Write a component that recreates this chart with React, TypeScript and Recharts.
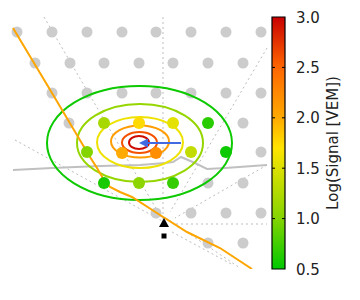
import { ScatterChart, Scatter, XAxis, YAxis, ReferenceArea, ReferenceLine } from "recharts";

// projected coordinates of the footprint (screen units)
const grayRowY = [32, 63, 93, 123, 152, 183, 213, 243];
const grayRowX = [
  [17, 52, 87, 122, 156, 191, 226, 261],
  [35, 70, 104, 139, 173, 208, 243],
  [52, 87, 122, 156, 191, 226, 261],
  [69, 243],
  [261],
  [208, 243],
  [156, 191, 226, 261],
  [208, 243],
];

const stationX = [104, 139, 173, 208, 87, 122, 156, 191, 226, 104, 139, 173];
const stationY = [123, 123, 123, 123, 152, 153, 153, 152, 152, 183, 183, 183];
const stationLog = [1.2, 1.75, 1.55, 0.65, 1.0, 2.0, 2.2, 1.35, 0.55, 0.6, 1.05, 0.7];

const contourX = [139, 139.5, 140, 140, 140, 139.5];
const contourY = [142.5, 142.5, 141.5, 142.5, 143, 143];
const contourRx = [10, 17.5, 29, 43, 63, 92.5];
const contourRy = [6.5, 10.5, 16, 25.5, 39, 57];
const contourLevel = [2.95, 2.6, 2.1, 1.6, 1.1, 0.55];

const trackX = [13, 52, 90, 97, 104, 110, 120, 132, 160, 187, 220, 252];
const trackY = [28, 93, 157, 168, 180, 187, 192, 197, 215, 232, 248, 269];

const groundX = [13, 52, 100, 140, 165, 173, 181, 195, 207, 225, 267];
const groundY = [170, 168, 166, 165, 163, 162, 157, 163, 169, 168, 165];

const gridSegments = [
  [44, 17, 164, 222],
  [15, 140, 164, 222],
  [163, 17, 163, 222],
  [267, 48, 170, 212],
  [267, 165, 175, 218],
  [176, 224, 267, 224],
  [166, 218, 240, 268],
  [172, 232, 233, 265],
];

const arrowFrom = { x: 181, y: 143 };
const arrowTip = { x: 139, y: 143 };
const corePoint = { x: 164, y: 223 };
const mcCorePoint = { x: 164, y: 236 };

const cbTicks = [0.5, 1.0, 1.5, 2.0, 2.5, 3.0];
const cbMin = 0.5;
const cbMax = 3.0;
const cbLeft = 272;
const cbRight = 285;

const cmap: [number, string][] = [
  [0.5, "#00c800"],
  [1.0, "#84d400"],
  [1.5, "#dce000"],
  [1.7, "#ffe400"],
  [2.0, "#ffaa00"],
  [2.5, "#ff6600"],
  [3.0, "#c80000"],
];

const hex = (c: string) => [1, 3, 5].map((i) => parseInt(c.slice(i, i + 2), 16));

function colorFor(v: number) {
  if (v <= cmap[0][0]) return cmap[0][1];
  for (let i = 1; i < cmap.length; i++) {
    const [v1, c1] = cmap[i];
    const [v0, c0] = cmap[i - 1];
    if (v <= v1) {
      const t = (v - v0) / (v1 - v0);
      const a = hex(c0);
      const b = hex(c1);
      const m = a.map((x, k) => Math.round(x + (b[k] - x) * t));
      return `rgb(${m[0]},${m[1]},${m[2]})`;
    }
  }
  return cmap[cmap.length - 1][1];
}

const grayStations = grayRowY.flatMap((y, i) => grayRowX[i].map((x) => ({ x, y })));
const stations = stationX.map((x, i) => ({ x, y: stationY[i], v: stationLog[i] }));
const contours = contourX.map((x, i) => ({
  x,
  y: contourY[i],
  rx: contourRx[i],
  ry: contourRy[i],
  v: contourLevel[i],
}));
const track = trackX.map((x, i) => ({ x, y: trackY[i] }));
const ground = groundX.map((x, i) => ({ x, y: groundY[i] }));
const cbAnchors = cbTicks.map((t) => ({ x: cbRight, y: t }));

const X_MIN = 0;
const X_MAX = 285;
const Y_MIN = 17;
const Y_MAX = 269;
const PLOT_W = 285;
const PLOT_H = 252;
const sx = PLOT_W / (X_MAX - X_MIN);
const sy = PLOT_H / (Y_MAX - Y_MIN);

const none = () => <g />;
const font = "DejaVu Sans, sans-serif";

const CbTick = (props: any) => {
  const { x, y, payload } = props;
  return (
    <text x={x} y={y} dy={5.5} fontSize={15} fontFamily={font} fill="#222">
      {Number(payload.value).toFixed(1)}
    </text>
  );
};

const CbLabel = (props: any) => {
  const { viewBox } = props;
  const cx = viewBox.x + 48;
  const cy = viewBox.y + viewBox.height / 2;
  return (
    <text
      x={cx}
      y={cy}
      transform={`rotate(-90, ${cx}, ${cy})`}
      textAnchor="middle"
      dominantBaseline="central"
      fontSize={15}
      fontFamily={font}
      fill="#222"
    >
      Log(Signal [VEM])
    </text>
  );
};

export default function App() {
  return (
    <div style={{ position: "absolute", left: 0, top: 0, width: 360, height: 300, background: "#fff" }}>
      <ScatterChart width={360} height={300} margin={{ top: 17, right: 0, bottom: 31, left: 0 }}>
        <defs>
          <linearGradient id="cbGrad" x1="0" y1="1" x2="0" y2="0">
            {cmap.map(([v, c]) => (
              <stop key={v} offset={(v - cbMin) / (cbMax - cbMin)} stopColor={c} />
            ))}
          </linearGradient>
        </defs>
        <XAxis type="number" dataKey="x" domain={[X_MIN, X_MAX]} hide allowDataOverflow />
        <YAxis yAxisId="main" type="number" dataKey="y" domain={[Y_MIN, Y_MAX]} reversed hide allowDataOverflow />
        <YAxis
          yAxisId="cb"
          orientation="right"
          type="number"
          dataKey="y"
          domain={[cbMin, cbMax]}
          ticks={cbTicks}
          width={75}
          axisLine={false}
          tickLine={false}
          tickSize={0}
          tickMargin={11}
          tick={<CbTick />}
          label={<CbLabel />}
          interval={0}
          allowDataOverflow
        />

        {gridSegments.map((s, i) => (
          <Scatter
            key={`g${i}`}
            yAxisId="main"
            data={[{ x: s[0], y: s[1] }, { x: s[2], y: s[3] }]}
            line={{ stroke: "#bdbdbd", strokeWidth: 1, strokeDasharray: "2 3" }}
            shape={none}
            isAnimationActive={false}
          />
        ))}

        <Scatter
          yAxisId="main"
          data={ground}
          line={{ stroke: "#c0c0c0", strokeWidth: 2 }}
          shape={none}
          isAnimationActive={false}
        />

        <Scatter
          yAxisId="main"
          data={grayStations}
          shape={(p: any) => <circle cx={p.cx} cy={p.cy} r={5.5} fill="#cccccc" />}
          isAnimationActive={false}
        />

        <Scatter
          yAxisId="main"
          data={contours}
          shape={(p: any) => (
            <ellipse
              cx={p.cx}
              cy={p.cy}
              rx={p.payload.rx * sx}
              ry={p.payload.ry * sy}
              fill="none"
              stroke={colorFor(p.payload.v)}
              strokeWidth={2}
            />
          )}
          isAnimationActive={false}
        />

        <Scatter
          yAxisId="main"
          data={track}
          line={{ stroke: "#ffa500", strokeWidth: 2 }}
          shape={none}
          isAnimationActive={false}
        />

        <Scatter
          yAxisId="main"
          data={[arrowFrom, { x: arrowTip.x + 8, y: arrowTip.y }]}
          line={{ stroke: "#4169e1", strokeWidth: 2 }}
          shape={none}
          isAnimationActive={false}
        />
        <Scatter
          yAxisId="main"
          data={[arrowTip]}
          shape={(p: any) => (
            <polygon
              points={`${p.cx},${p.cy} ${p.cx + 9},${p.cy - 4.5} ${p.cx + 9},${p.cy + 4.5}`}
              fill="#4169e1"
            />
          )}
          isAnimationActive={false}
        />

        <Scatter
          yAxisId="main"
          data={stations}
          shape={(p: any) => <circle cx={p.cx} cy={p.cy} r={6} fill={colorFor(p.payload.v)} />}
          isAnimationActive={false}
        />

        <Scatter
          yAxisId="main"
          data={[corePoint]}
          shape={(p: any) => (
            <polygon points={`${p.cx},${p.cy - 5} ${p.cx + 5},${p.cy + 4} ${p.cx - 5},${p.cy + 4}`} fill="#000" />
          )}
          isAnimationActive={false}
        />
        <Scatter
          yAxisId="main"
          data={[mcCorePoint]}
          shape={(p: any) => <rect x={p.cx - 2.5} y={p.cy - 2.5} width={5} height={5} fill="#000" />}
          isAnimationActive={false}
        />

        {/* keeps the colour-bar axis fed with data */}
        <Scatter yAxisId="cb" data={cbAnchors} shape={none} isAnimationActive={false} />

        <ReferenceArea
          yAxisId="cb"
          x1={cbLeft}
          x2={cbRight}
          y1={cbMin}
          y2={cbMax}
          fill="url(#cbGrad)"
          fillOpacity={1}
          stroke="#000"
          strokeWidth={1.2}
          ifOverflow="visible"
        />
        {cbTicks.slice(1, -1).map((t) => (
          <ReferenceLine
            key={`l${t}`}
            yAxisId="cb"
            segment={[{ x: cbLeft, y: t }, { x: cbLeft + 3, y: t }]}
            stroke="#000"
            ifOverflow="visible"
          />
        ))}
        {cbTicks.slice(1, -1).map((t) => (
          <ReferenceLine
            key={`r${t}`}
            yAxisId="cb"
            segment={[{ x: cbRight - 3, y: t }, { x: cbRight, y: t }]}
            stroke="#000"
            ifOverflow="visible"
          />
        ))}
      </ScatterChart>
    </div>
  );
}
